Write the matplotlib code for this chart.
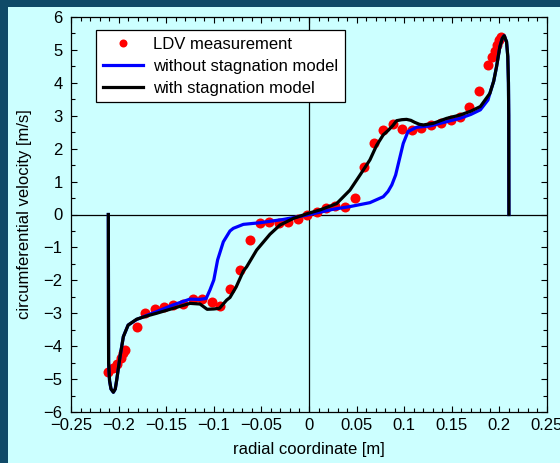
import numpy as np
import matplotlib.pyplot as plt
from matplotlib.patches import Rectangle
from matplotlib.legend_handler import HandlerLine2D
from matplotlib.ticker import MultipleLocator

plt.rcParams['font.family'] = ['Liberation Sans', 'DejaVu Sans']

# LDV measurement points
ldv_r = [-0.211, -0.2055, -0.2015, -0.198, -0.195, -0.193, -0.181, -0.172, -0.162,
         -0.152, -0.143, -0.132, -0.122, -0.112, -0.102, -0.093, -0.083, -0.0725,
         -0.062, -0.0515, -0.0417, -0.0315, -0.0217, -0.0112, -0.0018, 0.008, 0.018,
         0.027, 0.038, 0.048, 0.058, 0.068, 0.078, 0.0886, 0.098, 0.1085, 0.118,
         0.128, 0.139, 0.149, 0.159, 0.168, 0.179, 0.188, 0.192, 0.195, 0.197,
         0.2, 0.202]
ldv_v = [-4.78, -4.67, -4.55, -4.36, -4.22, -4.12, -3.43, -3.0, -2.88,
         -2.8, -2.75, -2.73, -2.58, -2.57, -2.65, -2.78, -2.27, -1.7,
         -0.78, -0.25, -0.23, -0.27, -0.22, -0.15, -0.02, 0.09, 0.19,
         0.26, 0.22, 0.49, 1.45, 2.16, 2.57, 2.75, 2.61, 2.57, 2.62,
         2.72, 2.79, 2.87, 2.97, 3.26, 3.76, 4.54, 4.80, 4.98, 5.15,
         5.30, 5.40]

# simulation without stagnation model
plain_r = [-0.2108, -0.2105, -0.2095, -0.208, -0.2055, -0.2035, -0.202, -0.1985,
           -0.195, -0.19, -0.181, -0.17, -0.16, -0.143, -0.125, -0.115, -0.108,
           -0.104, -0.1, -0.096, -0.09, -0.083, -0.0795, -0.069, -0.0515, -0.027,
           -0.0025, 0.0255, 0.043, 0.064, 0.078, 0.083, 0.087, 0.091, 0.094, 0.099,
           0.104, 0.113, 0.127, 0.1445, 0.1585, 0.17, 0.18, 0.188, 0.19, 0.194,
           0.197, 0.2005, 0.203, 0.205, 0.2075, 0.2088, 0.2095, 0.2098, 0.21]
plain_v = [0.0, -4.5, -5.05, -5.3, -5.4, -5.3, -5.03, -4.32,
           -3.71, -3.36, -3.19, -3.06, -2.95, -2.75, -2.57, -2.58, -2.55,
           -2.29, -1.99, -1.38, -0.83, -0.5, -0.42, -0.30, -0.25, -0.15,
           -0.02, 0.16, 0.24, 0.36, 0.54, 0.7, 0.9, 1.2, 1.56, 2.16,
           2.52, 2.65, 2.69, 2.82, 2.92, 3.04, 3.18, 3.48, 3.68, 4.05,
           4.49, 5.1, 5.35, 5.43, 5.25, 4.8, 4.0, 3.0, 0.0]

# simulation with stagnation model
stag_r = [-0.2108, -0.2105, -0.2095, -0.208, -0.2055, -0.2035, -0.202, -0.1985,
          -0.195, -0.19, -0.181, -0.17, -0.16, -0.1425, -0.125, -0.1145, -0.107,
          -0.1, -0.094, -0.0865, -0.083, -0.0765, -0.069, -0.0655, -0.055, -0.041,
          -0.0305, -0.0165, -0.0025, 0.0116, 0.029, 0.043, 0.0536, 0.064, 0.071,
          0.078, 0.083, 0.088, 0.092, 0.0975, 0.1025, 0.107, 0.111, 0.116, 0.12,
          0.1305, 0.1445, 0.1585, 0.17, 0.18, 0.19, 0.194, 0.197, 0.2005, 0.203,
          0.205, 0.2075, 0.2088, 0.2095, 0.2098, 0.21]
stag_v = [0.0, -4.5, -5.05, -5.3, -5.4, -5.3, -5.03, -4.32,
          -3.71, -3.36, -3.18, -3.08, -3.0, -2.85, -2.7, -2.72, -2.88,
          -2.87, -2.85, -2.6, -2.52, -2.2, -1.72, -1.59, -1.08, -0.6,
          -0.32, -0.12, 0.02, 0.14, 0.33, 0.74, 1.2, 1.66, 2.1,
          2.42, 2.55, 2.7, 2.85, 2.88, 2.89, 2.86, 2.8, 2.74, 2.72,
          2.77, 2.92, 3.02, 3.14, 3.28, 3.68, 4.05, 4.49, 5.1, 5.35,
          5.43, 5.25, 4.8, 4.0, 3.0, 0.0]


class MarkerAtEnd(HandlerLine2D):
    # put the single legend marker at the right end of the handle
    def get_xdata(self, legend, xdescent, ydescent, width, height, fontsize):
        xdata, _ = super().get_xdata(legend, xdescent, ydescent, width, height, fontsize)
        return xdata, np.array([width - xdescent])


bg = '#ccffff'
fs = 12
fig = plt.figure(figsize=(5.6, 4.63), dpi=100, facecolor='#0f4a68')
fig.patches.append(Rectangle((8 / 560, 0), 1, 1 - 7 / 463, transform=fig.transFigure,
                             facecolor=bg, edgecolor='none', zorder=-5))

ax = fig.add_axes([71 / 560, 51 / 463, 476 / 560, 395 / 463])
ax.set_facecolor(bg)

ax.axhline(0, color='black', lw=0.9, zorder=1)
ax.axvline(0, color='black', lw=0.9, zorder=1)

ldv, = ax.plot(ldv_r, ldv_v, 'o', color='#ff0000', ms=7.2, mec='none',
               label='LDV measurement', zorder=2)
ax.plot(plain_r, plain_v, color='#0000ff', lw=2.3, label='without stagnation model', zorder=3)
ax.plot(stag_r, stag_v, color='black', lw=2.3, label='with stagnation model', zorder=4)

ax.set_xlim(-0.25, 0.25)
ax.set_ylim(-6, 6)
ax.xaxis.set_major_locator(MultipleLocator(0.05))
ax.xaxis.set_minor_locator(MultipleLocator(0.01))
ax.yaxis.set_major_locator(MultipleLocator(1))
ax.yaxis.set_minor_locator(MultipleLocator(0.5))
ax.set_xticks(np.arange(-0.25, 0.2501, 0.05))
ax.set_xticklabels(['\u22120.25', '\u22120.2', '\u22120.15', '\u22120.1', '\u22120.05',
                    '0', '0.05', '0.1', '0.15', '0.2', '0.25'])
ax.tick_params(which='both', direction='in', top=True, right=True, labelsize=fs,
               width=0.8)
ax.tick_params(axis='x', pad=4.5)
ax.tick_params(axis='y', pad=6)
ax.tick_params(which='major', length=4.5)
ax.tick_params(which='minor', length=2.8)
for s in ax.spines.values():
    s.set_linewidth(0.9)

ax.set_xlabel('radial coordinate [m]', fontsize=fs, labelpad=6)
ax.set_ylabel('circumferential velocity [m/s]', fontsize=fs, labelpad=8)

leg = ax.legend(loc='upper left', bbox_to_anchor=(0.0525, 0.967), borderaxespad=0,
                fontsize=fs, fancybox=False, framealpha=1, edgecolor='black',
                handlelength=2.45, handletextpad=0.6, labelspacing=0.42,
                borderpad=0.4, markerscale=0.8, numpoints=1,
                handler_map={ldv: MarkerAtEnd()})
leg.get_frame().set_linewidth(0.9)

fig.savefig('out.png', dpi=100, facecolor=fig.get_facecolor())
